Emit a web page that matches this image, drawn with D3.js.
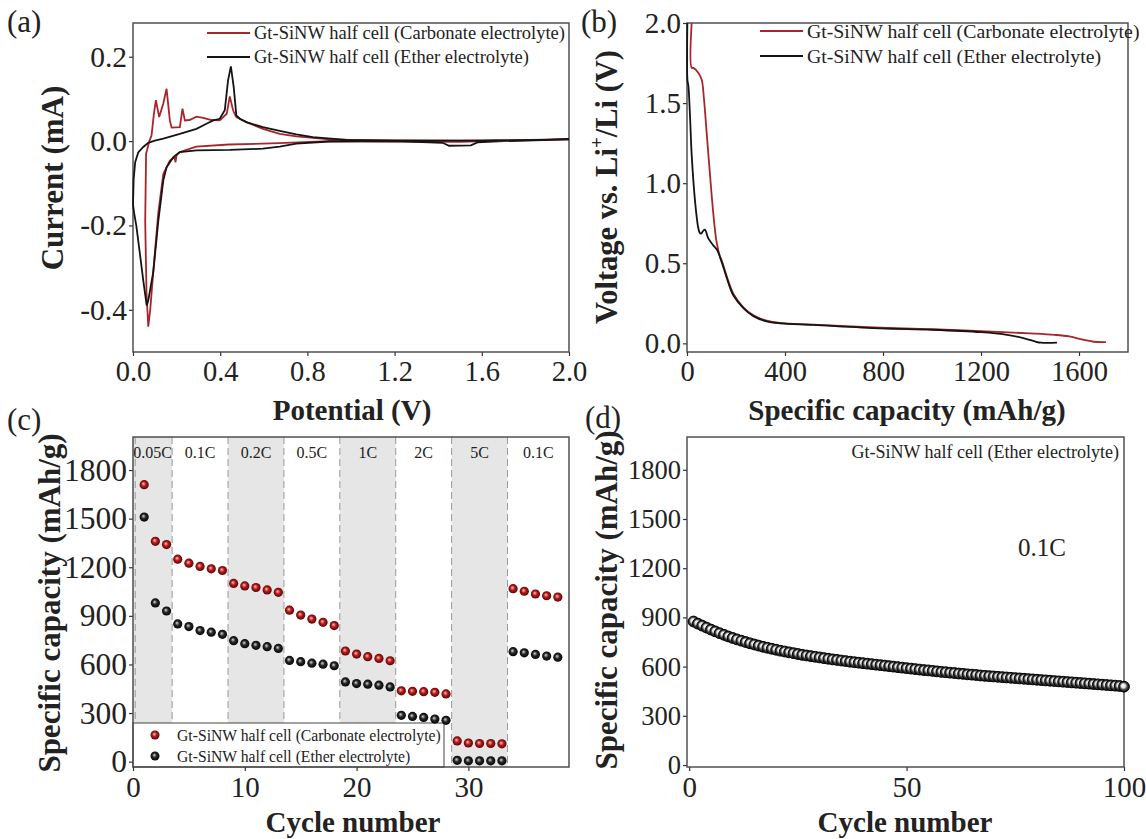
<!DOCTYPE html>
<html>
<head>
<meta charset="utf-8">
<script src="https://cdn.jsdelivr.net/npm/d3@7"></script>
<style>
body { margin: 0; background: #fff; }
svg text { font-family: "Liberation Serif", "Times New Roman", serif; fill: #222; }
</style>
</head>
<body>
<svg id="fig" width="1146" height="839"></svg>
<script>
// ---- data ----
// (a) cyclic voltammetry, [potential V, current mA], loop starts at 2.0 V going down
const cvCarbonate = [[2.0,0.004],[1.7,0.001],[1.5,-0.002],[1.2,-0.001],[0.9,0.0],[0.67,-0.005],[0.44,-0.008],[0.29,-0.013],[0.215,-0.026],[0.2,-0.033],[0.195,-0.05],[0.19,-0.038],[0.169,-0.046],[0.139,-0.078],[0.116,-0.17],[0.093,-0.31],[0.079,-0.40],[0.07,-0.44],[0.062,-0.36],[0.056,-0.19],[0.06,-0.03],[0.075,0.0],[0.085,0.013],[0.096,0.065],[0.105,0.097],[0.12,0.057],[0.139,0.089],[0.154,0.124],[0.169,0.049],[0.177,0.032],[0.215,0.033],[0.227,0.077],[0.238,0.049],[0.26,0.05],[0.291,0.058],[0.322,0.055],[0.36,0.05],[0.398,0.049],[0.43,0.065],[0.444,0.106],[0.459,0.073],[0.474,0.057],[0.52,0.045],[0.596,0.029],[0.673,0.017],[0.749,0.011],[0.902,0.004],[1.05,0.002],[1.5,0.001],[2.0,0.004]];
const cvEther = [[2.0,0.004],[1.7,0.0],[1.58,-0.003],[1.55,-0.01],[1.45,-0.011],[1.42,-0.004],[1.2,0.0],[0.9,-0.001],[0.749,-0.006],[0.673,-0.013],[0.596,-0.018],[0.444,-0.021],[0.291,-0.022],[0.215,-0.026],[0.185,-0.038],[0.154,-0.062],[0.139,-0.093],[0.116,-0.19],[0.093,-0.31],[0.07,-0.378],[0.063,-0.39],[0.047,-0.33],[0.03,-0.26],[0.015,-0.2],[0.005,-0.17],[0.0,-0.15],[0.003,-0.09],[0.01,-0.05],[0.024,-0.027],[0.047,-0.014],[0.07,-0.004],[0.1,0.001],[0.139,0.006],[0.215,0.017],[0.291,0.029],[0.337,0.041],[0.368,0.049],[0.398,0.053],[0.421,0.073],[0.436,0.144],[0.449,0.177],[0.462,0.128],[0.474,0.061],[0.49,0.053],[0.52,0.045],[0.596,0.033],[0.673,0.024],[0.749,0.016],[0.825,0.0095],[0.978,0.003],[1.2,0.001],[1.6,0.001],[2.0,0.004]];

// (b) first discharge, [capacity mAh/g, voltage V]
const gcdCarbonate = [[19,2.0],[19,1.72],[26,1.72],[46,1.69],[60,1.645],[69,1.53],[80,1.32],[94,1.05],[108,0.80],[121,0.63],[135,0.54],[141,0.52],[162,0.42],[189,0.31],[230,0.225],[271,0.175],[325,0.142],[380,0.128],[516,0.117],[788,0.098],[1000,0.088],[1200,0.076],[1400,0.062],[1500,0.053],[1560,0.043],[1620,0.022],[1660,0.01],[1710,0.008]];
const gcdEther = [[1.5,2.0],[2,1.64],[5.5,1.61],[12,1.43],[19,1.18],[33,0.885],[46,0.72],[52,0.69],[58,0.685],[65,0.70],[73,0.71],[87,0.655],[108,0.61],[124,0.58],[141,0.51],[162,0.41],[189,0.30],[230,0.22],[271,0.17],[325,0.137],[380,0.125],[516,0.115],[788,0.094],[1000,0.085],[1200,0.07],[1300,0.055],[1380,0.03],[1420,0.012],[1445,0.004],[1510,0.004]];

// (c) rate capability, cycles 1..38
const rateCycles = d3.range(1, 39);
const rateCarbonate = [1710,1360,1340, 1250,1225,1205,1190,1180, 1100,1085,1075,1060,1045, 935,905,880,860,840, 683,664,648,637,623, 437,434,432,428,418, 128,115,112,112,110, 1068,1052,1035,1024,1016];
const rateEther = [1510,980,930, 850,834,809,799,786, 747,728,718,710,699, 625,617,608,602,592, 492,482,478,472,461, 286,279,273,263,255, 8,5,5,5,5, 679,672,662,652,645];
const rateBounds = [0, 3.5, 8.5, 13.5, 18.5, 23.5, 28.5, 33.5, 39];
const rateLabels = ["0.05C", "0.1C", "0.2C", "0.5C", "1C", "2C", "5C", "0.1C"];

// (d) cycling at 0.1C, cycles 1..100
const cycleNo = d3.range(1, 101);
const cycleEther = [875,862,850,838,826,815,804,794,784,775,
  766,758,750,742,735,728,721,715,709,703,
  697,692,687,682,677,672,668,664,660,656,
  652,648,644,641,637,634,630,627,624,621,
  618,615,612,609,606,603,600,597,594,591,
  588,585,582,579,577,574,571,568,566,563,
  561,558,556,553,551,549,546,544,542,540,
  538,536,534,532,530,528,526,524,522,520,
  518,516,514,512,510,508,506,504,502,500,
  498,496,494,492,490,488,486,484,482,478];

const seriesNames = ["Gt-SiNW half cell (Carbonate electrolyte)", "Gt-SiNW half cell (Ether electrolyte)"];
const red = "#a8262b", black = "#141414";

// ---- drawing ----
const svg = d3.select("#fig");
const defs = svg.append("defs");

function ballGradient(id, stops) {
    const g = defs.append("radialGradient").attr("id", id)
        .attr("cx", "50%").attr("cy", "50%").attr("r", "55%")
        .attr("fx", "40%").attr("fy", "38%");
    stops.forEach(s => g.append("stop").attr("offset", s[0]).attr("stop-color", s[1]));
}
ballGradient("ballRed", [["0%", "#ffc4c4"], ["45%", "#b81a1a"], ["100%", "#4a0000"]]);
ballGradient("ballBlack", [["0%", "#d8d8d8"], ["45%", "#262626"], ["100%", "#000"]]);
ballGradient("ballRing", [["0%", "#ffffff"], ["35%", "#e0e0e0"], ["62%", "#444"], ["100%", "#000"]]);

// builds scales, a back layer, axes and frame; returns the pieces
function panel(box, xDom, yDom, xTicks, yTicks, fmtX, fmtY, fs) {
    const x = d3.scaleLinear().domain(xDom).range([box.l, box.r]);
    const y = d3.scaleLinear().domain(yDom).range([box.b, box.t]);
    const g = svg.append("g");
    const back = g.append("g");

    const ax = g.append("g").attr("transform", `translate(0,${box.b})`)
        .call(d3.axisBottom(x).tickValues(xTicks).tickFormat(fmtX)
            .tickSize(4).tickSizeOuter(0).tickPadding(5));
    const ay = g.append("g").attr("transform", `translate(${box.l},0)`)
        .call(d3.axisLeft(y).tickValues(yTicks).tickFormat(fmtY)
            .tickSize(4).tickSizeOuter(0).tickPadding(2));
    [[ax, fs[0]], [ay, fs[1]]].forEach(([a, size]) => {
        a.attr("font-size", size).attr("font-family", null);
        a.select(".domain").remove();
        a.selectAll("line").attr("stroke", "#333").attr("stroke-width", 1.2);
    });

    g.append("rect")
        .attr("x", box.l).attr("y", box.t)
        .attr("width", box.r - box.l).attr("height", box.b - box.t)
        .attr("fill", "none").attr("stroke", "#444").attr("stroke-width", 1.4);

    const marks = g.append("g");
    return { x, y, g, back, marks };
}

function title(text, x, y, rotate, size) {
    const t = svg.append("text")
        .attr("text-anchor", "middle")
        .attr("font-weight", "bold")
        .attr("font-size", size || (rotate ? 31 : 29));
    if (rotate) {
        t.attr("transform", `translate(${x},${y}) rotate(-90)`).attr("dominant-baseline", "central");
    } else {
        t.attr("x", x).attr("y", y);
    }
    t.text(text);
    return t;
}

function tag(text, x, y) {
    svg.append("text").attr("x", x).attr("y", y).attr("font-size", 31).text(text);
}

function lineLegend(g, x0, ys, size) {
    [red, black].forEach((c, i) => {
        g.append("line")
            .attr("x1", x0).attr("x2", x0 + 43)
            .attr("y1", ys[i]).attr("y2", ys[i])
            .attr("stroke", c).attr("stroke-width", 2);
        g.append("text")
            .attr("x", x0 + 47).attr("y", ys[i])
            .attr("dominant-baseline", "central")
            .attr("font-size", size)
            .text(seriesNames[i]);
    });
}

const f1 = d => d.toFixed(1);
const f0 = d => d3.format("d")(d);

// (a)
const pa = panel({ l: 133, r: 569, t: 23, b: 352 }, [0, 2], [-0.5, 0.28],
    [0, 0.4, 0.8, 1.2, 1.6, 2.0], [-0.4, -0.2, 0, 0.2], f1, f1, [28.5, 29.5]);
const lineA = d3.line().x(d => pa.x(d[0])).y(d => pa.y(d[1]));
pa.marks.append("path").datum(cvCarbonate).attr("d", lineA)
    .attr("fill", "none").attr("stroke", red).attr("stroke-width", 1.8);
pa.marks.append("path").datum(cvEther).attr("d", lineA)
    .attr("fill", "none").attr("stroke", black).attr("stroke-width", 1.8);
lineLegend(pa.marks, 207, [33, 57], 18.5);
tag("(a)", 7, 32);
title("Current (mA)", 52, 178, true);
title("Potential (V)", 352, 420);

// (b)
const pb = panel({ l: 687, r: 1128, t: 23, b: 352 }, [0, 1800], [-0.054, 2.0],
    [0, 400, 800, 1200, 1600], [0, 0.5, 1.0, 1.5, 2.0], f0, f1, [28.5, 29]);
const lineB = d3.line().x(d => pb.x(d[0])).y(d => pb.y(d[1])).curve(d3.curveCatmullRom.alpha(0.5));
pb.marks.append("path").datum(gcdCarbonate).attr("d", lineB)
    .attr("fill", "none").attr("stroke", red).attr("stroke-width", 1.8);
pb.marks.append("path").datum(gcdEther).attr("d", lineB)
    .attr("fill", "none").attr("stroke", black).attr("stroke-width", 1.8);
lineLegend(pb.marks, 760, [31, 56], 19.8);
tag("(b)", 581, 32);
const tb = title("", 607, 187, true, 30.5);
tb.append("tspan").text("Voltage vs. Li");
tb.append("tspan").attr("baseline-shift", "super").attr("font-size", 19).text("+");
tb.append("tspan").text("/Li (V)");
title("Specific capacity (mAh/g)", 907, 420);

// (c)
const pc = panel({ l: 133, r: 569, t: 437, b: 767 }, [0, 39], [-33, 2004],
    [0, 10, 20, 30], [0, 300, 600, 900, 1200, 1500, 1800], f0, f0, [29, 31.5]);
const bands = rateLabels.map((lab, i) => ({ lab, a: rateBounds[i], b: rateBounds[i + 1], shade: i % 2 === 0 }));
pc.back.selectAll("rect.band").data(bands.filter(d => d.shade)).join("rect")
    .attr("class", "band")
    .attr("x", d => pc.x(d.a)).attr("width", d => pc.x(d.b) - pc.x(d.a))
    .attr("y", 437).attr("height", 330)
    .attr("fill", "#e6e6e6");
pc.back.selectAll("line.sep").data([0.2].concat(rateBounds.slice(1, -1))).join("line")
    .attr("class", "sep")
    .attr("x1", d => pc.x(d)).attr("x2", d => pc.x(d))
    .attr("y1", 437).attr("y2", 767)
    .attr("stroke", "#9a9a9a").attr("stroke-width", 1).attr("stroke-dasharray", "7,4");
pc.back.selectAll("text.rate").data(bands).join("text")
    .attr("class", "rate")
    .attr("x", d => pc.x((d.a + d.b) / 2)).attr("y", 452)
    .attr("text-anchor", "middle").attr("dominant-baseline", "central")
    .attr("font-size", 16).attr("fill", "#333")
    .text(d => d.lab);
// legend box sits over the bands
const lg = pc.back.append("g");
lg.append("rect").attr("x", 133).attr("y", 723).attr("width", 311).attr("height", 44)
    .attr("fill", "#fff").attr("stroke", "#444").attr("stroke-width", 1);
[["ballRed", 735], ["ballBlack", 756]].forEach((s, i) => {
    lg.append("circle").attr("cx", 155).attr("cy", s[1]).attr("r", 4.5).attr("fill", `url(#${s[0]})`);
    lg.append("text").attr("x", 177).attr("y", s[1]).attr("dominant-baseline", "central")
        .attr("font-size", 15.7).text(seriesNames[i]);
});
pc.marks.selectAll("circle.red").data(rateCycles).join("circle")
    .attr("class", "red")
    .attr("cx", d => pc.x(d)).attr("cy", (d, i) => pc.y(rateCarbonate[i]))
    .attr("r", 4.6).attr("fill", "url(#ballRed)");
pc.marks.selectAll("circle.blk").data(rateCycles).join("circle")
    .attr("class", "blk")
    .attr("cx", d => pc.x(d)).attr("cy", (d, i) => pc.y(rateEther[i]))
    .attr("r", 4.6).attr("fill", "url(#ballBlack)");
tag("(c)", 7, 430);
title("Specific capacity (mAh/g)", 49, 603, true);
title("Cycle number", 353, 832);

// (d)
const pd = panel({ l: 687, r: 1124, t: 437, b: 767 }, [-0.5, 100], [-12, 2000],
    [0, 50, 100], [0, 300, 600, 900, 1200, 1500, 1800], f0, f0, [29, 26.5]);
pd.marks.selectAll("circle").data(cycleNo).join("circle")
    .attr("cx", d => pd.x(d)).attr("cy", (d, i) => pd.y(cycleEther[i]))
    .attr("r", 5.4).attr("fill", "url(#ballRing)").attr("stroke", "#000").attr("stroke-width", 1);
pd.marks.append("text").attr("x", 1119).attr("y", 452)
    .attr("text-anchor", "end").attr("dominant-baseline", "central")
    .attr("font-size", 18).text(seriesNames[1]);
pd.marks.append("text").attr("x", 1042).attr("y", 547)
    .attr("text-anchor", "middle").attr("dominant-baseline", "central")
    .attr("font-size", 25).text("0.1C");
tag("(d)", 585, 428);
title("Specific capacity (mAh/g)", 606, 600, true);
title("Cycle number", 905, 832);
</script>
</body>
</html>
